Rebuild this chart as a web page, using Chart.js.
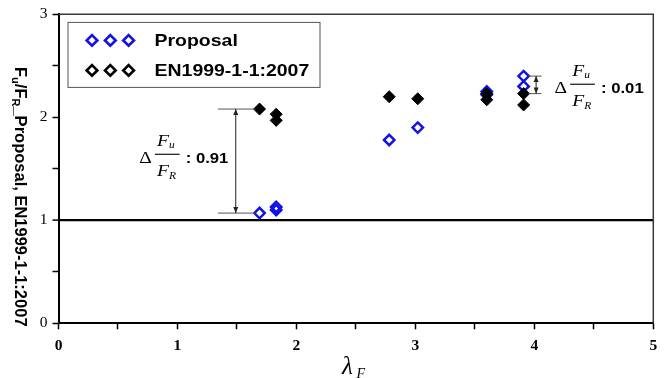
<!DOCTYPE html>
<html>
<head>
<meta charset="utf-8">
<script src="https://cdn.jsdelivr.net/npm/chart.js@4.4.1/dist/chart.umd.min.js"></script>
<style>
body { margin: 0; background: #fff; }
#wrap { width: 672px; height: 378px; }
</style>
</head>
<body>
<div id="wrap"><canvas id="ratio_chart" width="672" height="378"></canvas></div>
<script>
// lambda_F against Fu/FR for both design methods
var lambda_proposal = [1.69, 1.83, 1.83, 2.78, 3.02, 3.60, 3.60, 3.91, 3.91];
var ratio_proposal  = [1.07, 1.13, 1.10, 1.78, 1.90, 2.25, 2.22, 2.40, 2.30];
var lambda_en = [1.69, 1.83, 1.83, 2.78, 3.02, 3.60, 3.60, 3.91, 3.91];
var ratio_en  = [2.08, 2.03, 1.97, 2.20, 2.18, 2.23, 2.17, 2.23, 2.12];

var x_labels = [0, 1, 2, 3, 4, 5];
var y_labels = [0, 1, 2, 3];

var series_names = ["Proposal", "EN1999-1-1:2007"];
var gap_texts = [": 0.91", ": 0.01"];

var BLUE = "rgb(18,18,232)";
var SANS = '"Liberation Sans", Arial, sans-serif';
var SERIF = '"Liberation Serif", "Times New Roman", serif';
var STRETCH = 1.18;

function points(xs, ys) {
    var out = [];
    for (var i = 0; i < xs.length; i++) out.push({x: xs[i], y: ys[i]});
    return out;
}

// double headed vertical arrow
function vArrow(ctx, x, y1, y2) {
    ctx.beginPath();
    ctx.moveTo(x, y1);
    ctx.lineTo(x, y2);
    ctx.stroke();
    ctx.beginPath();
    ctx.moveTo(x, y1);
    ctx.lineTo(x - 2.5, y1 + 6);
    ctx.lineTo(x + 2.5, y1 + 6);
    ctx.closePath();
    ctx.moveTo(x, y2);
    ctx.lineTo(x - 2.5, y2 - 6);
    ctx.lineTo(x + 2.5, y2 - 6);
    ctx.closePath();
    ctx.fill();
}

// "delta Fu/FR : n" label, x/y = left edge and baseline of the delta
function deltaLabel(ctx, x, y, txt) {
    ctx.save();
    ctx.translate(x, y);
    ctx.scale(1.15, 1);
    ctx.fillStyle = "#000";
    ctx.textAlign = "left";
    ctx.textBaseline = "alphabetic";
    ctx.font = "17px " + SERIF;
    ctx.fillText("\u0394", 0, 0);
    ctx.fillRect(13.7, -8.9, 21.5, 1.1);
    ctx.font = "italic 17px " + SERIF;
    ctx.fillText("F", 15.5, -16.5);
    ctx.fillText("F", 15.5, 13.5);
    ctx.font = "italic 10px " + SERIF;
    ctx.fillText("u", 26, -14.5);
    ctx.fillText("R", 26, 16.5);
    ctx.font = "bold 14.5px " + SANS;
    ctx.fillText(txt, 40.5, 0);
    ctx.restore();
}

var framePlugin = {
    id: "frame",
    beforeDatasetsDraw: function(chart) {
        var ctx = chart.ctx, a = chart.chartArea;
        ctx.save();
        ctx.strokeStyle = "#3a3a3a";
        ctx.lineWidth = 1.5;
        ctx.beginPath();
        ctx.moveTo(a.left, a.top);
        ctx.lineTo(a.right, a.top);
        ctx.lineTo(a.right, a.bottom);
        ctx.stroke();
        ctx.restore();
    }
};

var gapPlugin = {
    id: "gaps",
    afterDatasetsDraw: function(chart) {
        var ctx = chart.ctx, xs = chart.scales.x, ys = chart.scales.y;
        ctx.save();
        ctx.lineWidth = 1;
        ctx.strokeStyle = "#555";
        // left pair: 2.08 vs 1.07
        var l1 = xs.getPixelForValue(1.34), l2 = xs.getPixelForValue(1.655);
        var yt = ys.getPixelForValue(ratio_en[0]), yb = ys.getPixelForValue(ratio_proposal[0]);
        ctx.beginPath();
        ctx.moveTo(l1, yt); ctx.lineTo(l2, yt);
        ctx.moveTo(l1, yb); ctx.lineTo(l2, yb);
        ctx.stroke();
        ctx.strokeStyle = "#222";
        ctx.fillStyle = "#222";
        vArrow(ctx, xs.getPixelForValue(1.49), yt, yb);
        // right pair
        ctx.strokeStyle = "#555";
        var r1 = xs.getPixelForValue(3.95), r2 = xs.getPixelForValue(4.06);
        var rt = ys.getPixelForValue(ratio_proposal[7]), rb = ys.getPixelForValue(ratio_en[7]);
        ctx.beginPath();
        ctx.moveTo(r1, rt); ctx.lineTo(r2, rt);
        ctx.moveTo(r1, rb); ctx.lineTo(r2, rb);
        ctx.stroke();
        ctx.strokeStyle = "#222";
        vArrow(ctx, xs.getPixelForValue(4.015), rt, rb);
        ctx.restore();

        deltaLabel(ctx, xs.getPixelForValue(0.678), ys.getPixelForValue(1.56), gap_texts[0]);
        deltaLabel(ctx, xs.getPixelForValue(4.169), ys.getPixelForValue(2.24), gap_texts[1]);
    }
};

function diamond(ctx, x, y, r) {
    ctx.beginPath();
    ctx.moveTo(x, y - r);
    ctx.lineTo(x + r, y);
    ctx.lineTo(x, y + r);
    ctx.lineTo(x - r, y);
    ctx.closePath();
    ctx.stroke();
}

var legendPlugin = {
    id: "boxLegend",
    afterDraw: function(chart) {
        var ctx = chart.ctx, a = chart.chartArea;
        var bx = a.left + 9, by = a.top + 7.6;
        ctx.save();
        ctx.fillStyle = "#fff";
        ctx.fillRect(bx, by, 252, 65);
        ctx.strokeStyle = "#555";
        ctx.lineWidth = 1;
        ctx.strokeRect(bx + 0.5, by + 0.5, 252, 65);
        var colors = [BLUE, "#000"];
        for (var i = 0; i < 2; i++) {
            var cy = by + 18.5 + i * 30;
            ctx.strokeStyle = colors[i];
            ctx.lineWidth = 2.7;
            for (var k = 0; k < 3; k++) diamond(ctx, bx + 24.5 + k * 18.3, cy, 5.3);
            ctx.save();
            ctx.translate(bx + 87, cy + 5.5);
            ctx.scale(STRETCH, 1);
            ctx.fillStyle = "#000";
            ctx.font = "bold 16.5px " + SANS;
            ctx.textBaseline = "alphabetic";
            ctx.fillText(series_names[i], 0, 0);
            ctx.restore();
        }
        ctx.restore();
    }
};

var titlePlugin = {
    id: "axisTitles",
    afterDraw: function(chart) {
        var ctx = chart.ctx, ys = chart.scales.y, xs = chart.scales.x;
        // y title, rotated clockwise with subscripts
        var parts = [["F", 0], ["u", 1], ["/F", 0], ["R", 1], ["_Proposal, EN1999-1-1:2007", 0]];
        var big = "bold 16.5px " + SANS, small = "bold 11px " + SANS;
        ctx.save();
        var total = 0;
        for (var i = 0; i < parts.length; i++) {
            ctx.font = parts[i][1] ? small : big;
            total += ctx.measureText(parts[i][0]).width;
        }
        ctx.translate(21, (ys.top + ys.bottom) / 2 + 28);
        ctx.rotate(Math.PI / 2);
        ctx.fillStyle = "#000";
        ctx.textBaseline = "alphabetic";
        var px = -total / 2;
        for (var j = 0; j < parts.length; j++) {
            ctx.font = parts[j][1] ? small : big;
            ctx.fillText(parts[j][0], px, parts[j][1] ? 9.5 : 5.9);
            px += ctx.measureText(parts[j][0]).width;
        }
        ctx.restore();

        // x title lambda_F
        ctx.save();
        var cx = xs.getPixelForValue(2.5);
        ctx.fillStyle = "#000";
        ctx.font = "italic 25px " + SERIF;
        ctx.fillText("\u03bb", cx - 14, 374);
        ctx.font = "italic 14px " + SERIF;
        ctx.fillText("F", cx + 0.5, 377.5);
        ctx.restore();
    }
};

var ratio_chart = new Chart(document.getElementById("ratio_chart").getContext("2d"), {
    type: "scatter",
    data: {
        datasets: [{
            label: series_names[0],
            data: points(lambda_proposal, ratio_proposal),
            pointStyle: "rectRot",
            pointRadius: 5.2,
            pointBorderWidth: 2.5,
            borderColor: BLUE,
            backgroundColor: "rgba(0,0,0,0)",
            order: 2
        }, {
            label: series_names[1],
            data: points(lambda_en, ratio_en),
            pointStyle: "rectRot",
            pointRadius: 6,
            pointBorderWidth: 1,
            borderColor: "#000",
            backgroundColor: "#000",
            order: 1
        }]
    },
    options: {
        responsive: false,
        animation: false,
        events: [],
        layout: {
            padding: {top: 10.7, right: 18.7, left: 0, bottom: 0}
        },
        plugins: {
            legend: {display: false},
            tooltip: {enabled: false}
        },
        scales: {
            x: {
                type: "linear",
                min: 0,
                max: 5,
                afterFit: function(s) { s.height = 54.7; },
                ticks: {
                    stepSize: 0.5,
                    autoSkip: false,
                    maxRotation: 0,
                    padding: 7,
                    color: "#000",
                    font: {family: SERIF, size: 15.5, weight: "bold"},
                    callback: function(v) { return x_labels.indexOf(v) >= 0 ? v : ""; }
                },
                grid: {
                    color: "rgba(0,0,0,0)",
                    tickColor: "#000",
                    tickLength: 6,
                    tickWidth: 1.5
                },
                border: {color: "#000", width: 2}
            },
            y: {
                type: "linear",
                min: 0,
                max: 3,
                afterFit: function(s) { s.width = 58.5; },
                ticks: {
                    stepSize: 0.5,
                    autoSkip: false,
                    padding: 5,
                    color: "#000",
                    font: {family: SERIF, size: 15.5},
                    callback: function(v) { return y_labels.indexOf(v) >= 0 ? v : ""; }
                },
                grid: {
                    color: function(c) { return (c.tick && c.tick.value === 1) ? "#000" : "rgba(0,0,0,0)"; },
                    lineWidth: function(c) { return (c.tick && c.tick.value === 1) ? 2.2 : 1; },
                    tickColor: "#000",
                    tickLength: 6,
                    tickWidth: 1.5
                },
                border: {color: "#000", width: 2}
            }
        }
    },
    plugins: [framePlugin, gapPlugin, legendPlugin, titlePlugin]
});
</script>
</body>
</html>
